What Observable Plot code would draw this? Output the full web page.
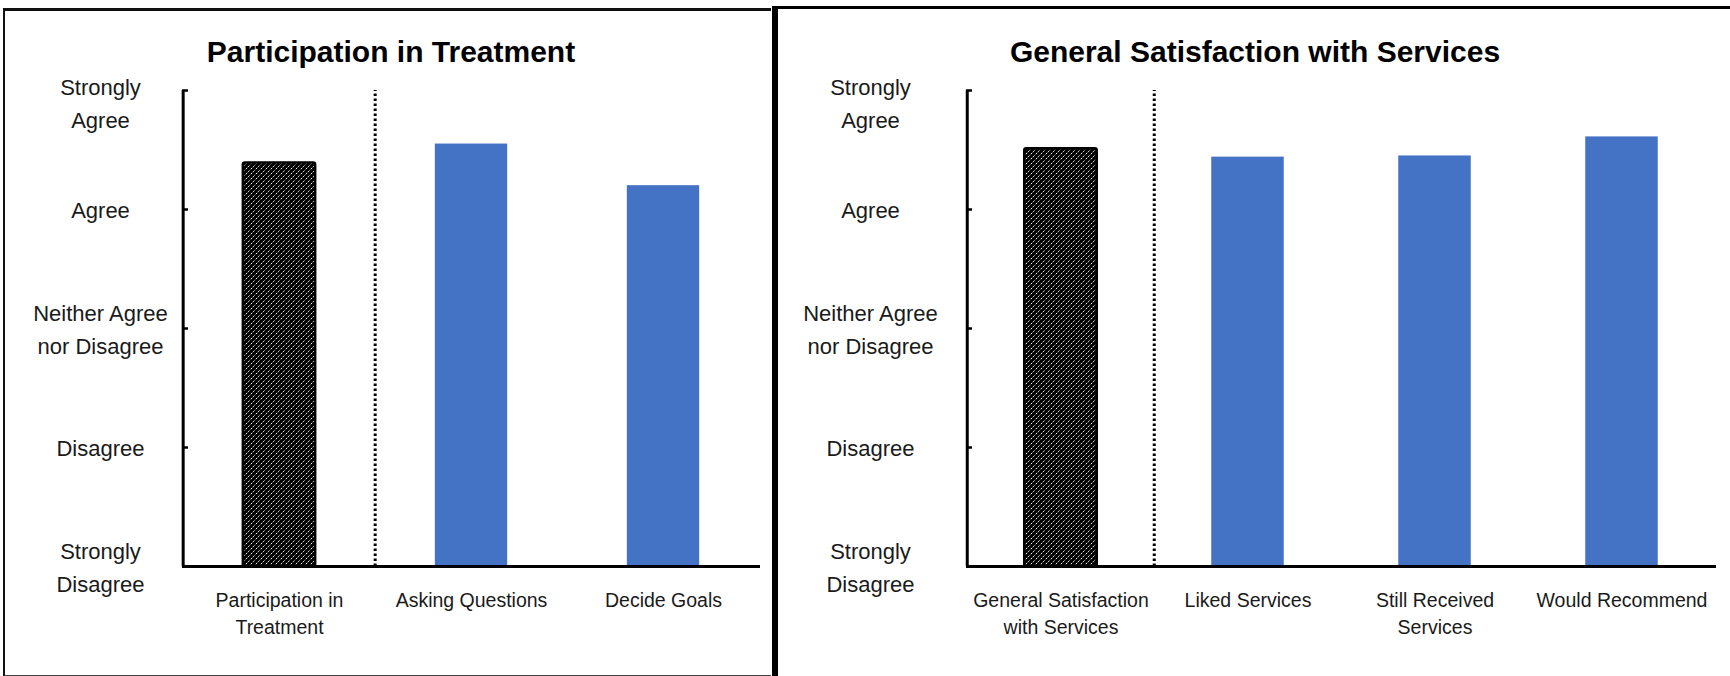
<!DOCTYPE html>
<html>
<head>
<meta charset="utf-8">
<script src="https://cdn.jsdelivr.net/npm/d3@7"></script>
<script src="https://cdn.jsdelivr.net/npm/@observablehq/plot@0.6"></script>
<style>
  html, body { margin: 0; padding: 0; background: #fff; }
  #page { position: relative; width: 1730px; height: 676px; overflow: hidden; font-family: "Liberation Sans", Arial, sans-serif; }
  .panel-left { position: absolute; left: 3px; top: 8px; width: 766px; height: 664px; border: 2.5px solid #111; border-top-width: 3px; border-right: none; border-bottom-color: #444; }
  .panel-right { position: absolute; left: 772px; top: 6px; width: 960px; height: 700px; border-left: 6px solid #000; border-top: 3px solid #000; }
  .title { position: absolute; width: 700px; text-align: center; font-size: 30px; line-height: 30px; font-weight: bold; color: #000; top: 37px; }
  .chart { position: absolute; top: 0; }
</style>
</head>
<body>
<div id="page">
  <div class="panel-left"></div>
  <div class="panel-right"></div>
  <div class="title" style="left:41px">Participation in Treatment</div>
  <div class="title" style="left:905px">General Satisfaction with Services</div>
  <div class="chart" id="left" style="left:0px"></div>
  <div class="chart" id="right" style="left:780px"></div>
</div>
<script>
// ---- data ----
const leftCategories = ["Participation in Treatment", "Asking Questions", "Decide Goals"];
const leftTickLabels = ["Participation in\nTreatment", "Asking Questions", "Decide Goals"];
const leftValues = [4.39, 4.55, 4.20];
const leftKinds = ["summary", "item", "item"];

const rightCategories = ["General Satisfaction with Services", "Liked Services", "Still Received Services", "Would Recommend"];
const rightTickLabels = ["General Satisfaction\nwith Services", "Liked Services", "Still Received\nServices", "Would Recommend"];
const rightValues = [4.51, 4.44, 4.45, 4.61];
const rightKinds = ["summary", "item", "item", "item"];

const scaleValues = [1, 2, 3, 4, 5];
const scaleLabels = ["Strongly\nDisagree", "Disagree", "Neither Agree\nnor Disagree", "Agree", "Strongly\nAgree"];

// ---- chart builder ----
function makeChart({id, cats, labels, values, kinds, width, marginLeft, marginRight, labelPad, barWidth}) {
  const data = cats.map((c, i) => ({category: c, value: values[i], kind: kinds[i]}));
  const step = (width - marginLeft - marginRight) / cats.length;
  const inset = (step - barWidth) / 2;
  const xLabel = new Map(cats.map((c, i) => [c, labels[i]]));
  const yLabel = new Map(scaleValues.map((v, i) => [v, scaleLabels[i]]));
  const patId = "hatch-" + id;
  const top = scaleValues[scaleValues.length - 1];
  const yTextCommon = {
    label: null, tickSize: 0, tickPadding: labelPad, textAnchor: "middle",
    tickFormat: d => yLabel.get(d), fontSize: 22, lineHeight: 1.5, fill: "#1a1a1a"
  };
  const plot = Plot.plot({
    width, height: 676,
    marginTop: 90, marginBottom: 110, marginLeft, marginRight,
    style: {background: "transparent", fontFamily: '"Liberation Sans", Arial, sans-serif', color: "#111", overflow: "visible"},
    x: {domain: cats, padding: 0, axis: null, label: null},
    y: {domain: [1, 5], axis: null, label: null},
    marks: [
      Plot.barY(data.filter(d => d.kind === "item"), {
        x: "category", y1: 1, y2: "value", fill: "#4472C4",
        insetLeft: inset, insetRight: inset
      }),
      Plot.barY(data.filter(d => d.kind === "summary"), {
        x: "category", y1: 1, y2: "value", fill: `url(#${patId})`,
        stroke: "#000", strokeWidth: 2.5, rx: 2,
        insetLeft: inset, insetRight: inset
      }),
      Plot.ruleX([cats[1]], {y1: 1, y2: 5, dx: -step / 2, stroke: "#000", strokeWidth: 3, strokeDasharray: "2.5,2.5"}),
      Plot.ruleX([cats[0]], {y1: 1, y2: 5, dx: -step / 2, stroke: "#000", strokeWidth: 3}),
      Plot.ruleY([1], {stroke: "#000", strokeWidth: 3}),
      Plot.axisY({label: null, ticks: scaleValues.slice(1), tickSize: -6, text: null, strokeWidth: 2.5, stroke: "#000"}),
      Plot.axisY({...yTextCommon, ticks: [top], dy: 10}),
      Plot.axisY({...yTextCommon, ticks: scaleValues.slice(0, -1), dy: -2}),
      Plot.axisX({label: null, tickSize: 0, tickPadding: 21, tickFormat: d => xLabel.get(d), fontSize: 19.5, lineHeight: 1.38, fill: "#1a1a1a"})
    ]
  });
  const svg = d3.select(plot);
  const defs = svg.insert("defs", ":first-child");
  const pat = defs.append("pattern")
    .attr("id", patId).attr("patternUnits", "userSpaceOnUse")
    .attr("width", 5).attr("height", 5);
  pat.append("rect").attr("width", 5).attr("height", 5).attr("fill", "#000");
  pat.append("path")
    .attr("d", "M-1,6 L6,-1 M-1,1 L1,-1 M4,6 L6,4")
    .attr("stroke", "#fff").attr("stroke-width", 1)
    .attr("stroke-dasharray", "1.6,1");
  document.getElementById(id).appendChild(plot);
}

makeChart({id: "left", cats: leftCategories, labels: leftTickLabels, values: leftValues, kinds: leftKinds,
  width: 770, marginLeft: 182, marginRight: 10, labelPad: 82, barWidth: 73});
makeChart({id: "right", cats: rightCategories, labels: rightTickLabels, values: rightValues, kinds: rightKinds,
  width: 950, marginLeft: 186, marginRight: 14, labelPad: 96, barWidth: 73});
</script>
</body>
</html>
